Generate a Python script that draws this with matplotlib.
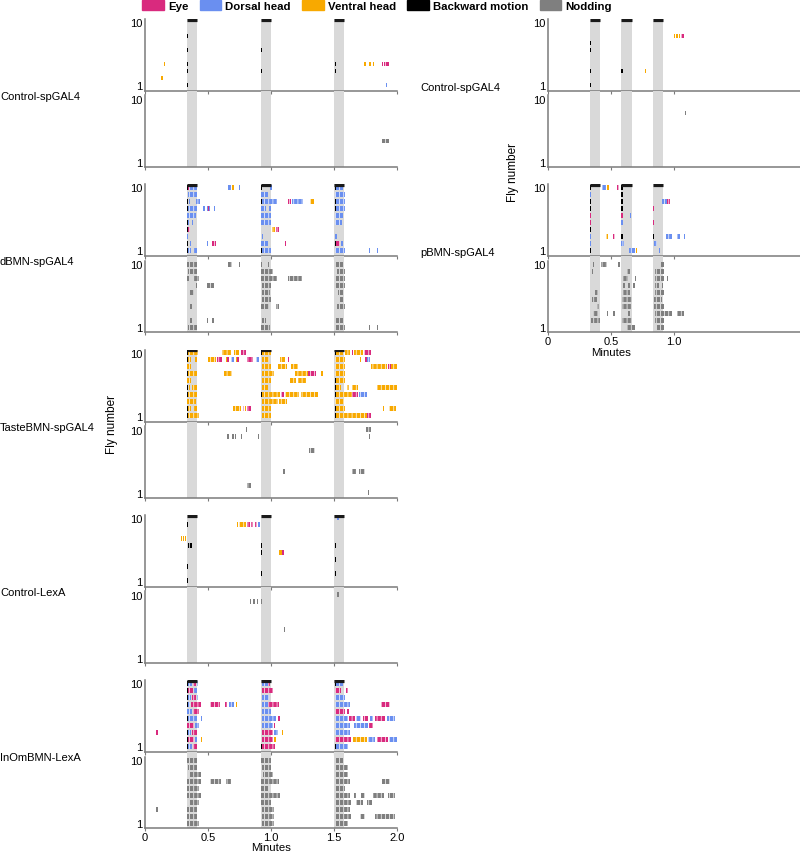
import matplotlib.pyplot as plt
from matplotlib.patches import Patch

plt.rcParams['font.family'] = ['Liberation Sans', 'DejaVu Sans']
plt.rcParams['hatch.linewidth'] = 0.5

W, H = 800, 854

colors = {'V': '#f8a900', 'D': '#6a8ff0', 'E': '#d92a7e', 'B': '#000000'}
nod_color = '#7f7f7f'
shade_color = '#d9d9d9'

# stimulus onsets in minutes, each lasts ~5 s
stim_left = [0.333, 0.917, 1.5]
stim_right = [0.333, 0.583, 0.833]
stim_len = 0.083

# grooming events: (fly, start, end, code) or (fly, time, code) for a single tick
# E = eye, D = dorsal head, V = ventral head, B = backward motion
ctrl_gal4_groom = [
    (8, 0.33, 'B'), (6, 0.33, 'B'), (4, 0.33, 'B'), (3, 0.33, 'B'), (1, 0.33, 'B'),
    (6, 0.92, 'B'), (3, 0.92, 'B'), (4, 1.505, 'B'), (3, 1.505, 'B'),
    (4, 0.15, 'V'), (2, 0.13, 'V'), (4, 1.74, 'V'), (4, 1.78, 'V'), (4, 1.81, 'V'),
    (4, 1.88, 'E'), (4, 1.9, 1.94, 'E'), (1, 1.91, 'D'),
]
ctrl_gal4_nod = [(4, 1.88, 1.94)]

dbmn_groom = [
    (10, 0.33, 'B'), (10, 0.335, 0.348, 'E'), (10, 0.35, 0.415, 'D'), (10, 0.662, 0.681, 'D'),
    (10, 0.694, 'V'), (10, 0.747, 'D'), (10, 0.92, 'B'), (10, 0.995, 'D'), (10, 1.505, 'B'),
    (10, 1.519, 1.572, 'D'),
    (9, 0.34, 0.415, 'D'), (9, 0.92, 0.973, 'D'), (9, 1.511, 1.59, 'D'),
    (8, 0.33, 'B'), (8, 0.348, 'D'), (8, 0.402, 0.434, 'D'), (8, 0.92, 'B'), (8, 0.928, 1.045, 'D'),
    (8, 1.138, 1.16, 'E'), (8, 1.165, 1.253, 'D'), (8, 1.306, 1.34, 'V'), (8, 1.505, 'B'),
    (8, 1.511, 1.585, 'D'),
    (7, 0.33, 'B'), (7, 0.34, 0.415, 'D'), (7, 0.46, 0.473, 'D'), (7, 0.489, 'D'), (7, 0.5, 'E'),
    (7, 0.508, 'D'), (7, 0.548, 'D'), (7, 0.92, 0.96, 'D'), (7, 0.987, 'D'), (7, 1.505, 'B'),
    (7, 1.513, 1.585, 'D'),
    (6, 0.335, 0.407, 'D'), (6, 0.92, 1.0, 'D'), (6, 1.511, 1.572, 'D'),
    (5, 0.33, 'B'), (5, 0.34, 'D'), (5, 0.37, 'D'), (5, 0.92, 1.0, 'D'), (5, 1.511, 1.564, 'D'),
    (4, 0.33, 'B'), (4, 0.34, 0.356, 'E'), (4, 1.008, 1.032, 'V'), (4, 1.043, 1.066, 'E'),
    (3, 0.335, 'D'), (3, 0.928, 'D'), (3, 1.511, 'D'),
    (2, 0.33, 'B'), (2, 0.356, 'D'), (2, 0.489, 'D'), (2, 0.529, 0.566, 'E'), (2, 0.92, 0.973, 'D'),
    (2, 1.112, 'E'), (2, 1.505, 'B'), (2, 1.519, 1.545, 'E'), (2, 1.559, 'D'),
    (1, 0.33, 'B'), (1, 0.34, 0.362, 'D'), (1, 0.388, 0.415, 'D'), (1, 0.92, 'B'), (1, 0.928, 1.0, 'D'),
    (1, 1.511, 1.585, 'D'), (1, 1.779, 'D'), (1, 1.838, 'D'),
]
dbmn_nod = [
    (10, 0.335, 0.415), (10, 0.662, 0.694), (10, 0.747), (10, 0.92), (10, 0.973), (10, 1.511, 1.572),
    (9, 0.34, 0.415), (9, 0.92, 1.013), (9, 1.527, 1.59),
    (8, 0.335, 0.356), (8, 0.388, 0.428), (8, 0.92, 1.045), (8, 1.138, 1.245), (8, 1.511, 1.585),
    (7, 0.402), (7, 0.489, 0.548), (7, 0.928, 1.0), (7, 1.511, 1.585),
    (6, 0.348, 0.388), (6, 0.928, 0.995), (6, 1.532, 1.572),
    (5, 0.928, 1.0), (5, 1.545, 1.572),
    (4, 0.356, 0.375), (4, 0.92, 0.987), (4, 1.043, 1.061), (4, 1.527, 1.585),
    (2, 0.356, 0.375), (2, 0.489), (2, 0.529, 0.548), (2, 0.928, 0.96), (2, 1.511, 1.572),
    (1, 0.34, 0.415), (1, 0.92, 0.995), (1, 1.511, 1.585), (1, 1.779), (1, 1.838),
]

taste_groom = [
    (10, 0.33, 'B'), (10, 0.335, 0.423, 'V'), (10, 0.614, 0.681, 'V'), (10, 0.707, 0.747, 'V'),
    (10, 0.761, 0.8, 'E'), (10, 0.92, 'B'), (10, 0.926, 1.0, 'V'), (10, 1.505, 'B'),
    (10, 1.511, 1.572, 'V'), (10, 1.59, 1.63, 'V'), (10, 1.64, 'E'), (10, 1.66, 1.73, 'V'),
    (10, 1.735, 1.79, 'E'),
    (9, 0.33, 'B'), (9, 0.335, 0.362, 'V'), (9, 0.394, 0.415, 'V'), (9, 0.5, 0.561, 'V'),
    (9, 0.569, 0.614, 'E'), (9, 0.641, 'V'), (9, 0.654, 'E'), (9, 0.681, 0.707, 'D'), (9, 0.721, 'V'),
    (9, 0.734, 'E'), (9, 0.809, 0.854, 'E'), (9, 0.88, 0.907, 'D'), (9, 0.926, 0.987, 'V'),
    (9, 1.074, 1.112, 'V'), (9, 1.133, 'E'), (9, 1.511, 1.585, 'V'), (9, 1.705, 'V'),
    (9, 1.745, 1.765, 'E'), (9, 1.765, 1.785, 'D'),
    (8, 0.335, 0.362, 'V'), (8, 0.926, 1.0, 'V'), (8, 1.059, 1.128, 'V'), (8, 1.16, 1.213, 'V'),
    (8, 1.511, 1.585, 'V'), (8, 1.79, 1.92, 'V'), (8, 1.93, 1.95, 'E'), (8, 1.955, 1.997, 'V'),
    (7, 0.33, 'B'), (7, 0.335, 0.415, 'V'), (7, 0.628, 0.694, 'V'), (7, 0.926, 1.027, 'V'),
    (7, 1.191, 1.29, 'V'), (7, 1.29, 1.355, 'E'), (7, 1.40, 'V'),
    (7, 1.511, 1.585, 'V'),
    (6, 0.335, 0.362, 'V'), (6, 0.926, 1.0, 'V'), (6, 1.154, 1.199, 'V'), (6, 1.213, 1.274, 'V'),
    (6, 1.505, 'B'), (6, 1.511, 1.585, 'V'),
    (5, 0.33, 'B'), (5, 0.348, 'V'), (5, 0.375, 0.415, 'V'), (5, 0.926, 0.973, 'V'), (5, 1.505, 'B'),
    (5, 1.511, 1.559, 'V'), (5, 1.60, 1.62, 'V'), (5, 1.64, 1.69, 'V'), (5, 1.84, 2.0, 'V'),
    (4, 0.33, 'B'), (4, 0.335, 0.415, 'V'), (4, 0.92, 'B'), (4, 0.926, 1.074, 'V'),
    (4, 1.08, 1.106, 'E'), (4, 1.112, 1.226, 'V'), (4, 1.24, 1.37, 'V'), (4, 1.505, 'B'),
    (4, 1.511, 1.64, 'V'), (4, 1.64, 1.69, 'E'), (4, 1.70, 1.76, 'D'),
    (3, 0.335, 0.407, 'V'), (3, 0.926, 1.053, 'V'), (3, 1.066, 1.128, 'V'), (3, 1.511, 1.58, 'V'),
    (2, 0.33, 'B'), (2, 0.335, 0.362, 'V'), (2, 0.388, 0.415, 'V'), (2, 0.702, 0.761, 'V'),
    (2, 0.774, 0.787, 'E'), (2, 0.795, 'V'), (2, 0.809, 0.84, 'E'), (2, 0.926, 1.0, 'V'),
    (2, 1.505, 'B'), (2, 1.511, 1.585, 'V'), (2, 1.89, 'V'), (2, 1.94, 1.99, 'V'),
    (1, 0.33, 'B'), (1, 0.335, 0.428, 'V'), (1, 0.926, 1.0, 'V'), (1, 1.505, 'B'),
    (1, 1.511, 1.76, 'V'), (1, 1.76, 1.79, 'E'),
]
taste_nod = [
    (10, 0.8), (10, 1.753, 1.793), (9, 0.654), (9, 0.694), (9, 0.715), (9, 0.761), (9, 0.894),
    (9, 1.777), (7, 1.298, 1.35), (4, 1.098), (4, 1.646, 1.678), (4, 1.7, 1.745),
    (2, 0.806, 0.84), (1, 1.771),
]

ctrl_lexa_groom = [
    (9, 0.335, 'B'), (3, 0.335, 'B'), (1, 0.335, 'B'), (6, 0.34, 0.375, 'B'),
    (7, 0.287, 'V'), (7, 0.3, 'V'), (7, 0.314, 'V'),
    (9, 0.729, 'V'), (9, 0.745, 0.8, 'V'), (9, 0.81, 0.83, 'E'), (9, 0.84, 0.86, 'E'),
    (9, 0.87, 0.89, 'E'), (9, 0.9, 0.915, 'D'),
    (6, 0.92, 'B'), (5, 0.92, 'B'), (2, 0.92, 'B'),
    (5, 1.066, 'V'), (5, 1.078, 'V'), (5, 1.09, 'E'),
    (10, 1.527, 'D'), (6, 1.505, 'B'), (4, 1.505, 'B'), (2, 1.505, 'B'),
]
ctrl_lexa_nod = [(9, 0.835, 0.845), (9, 0.86), (9, 0.885), (9, 0.92), (5, 1.1), (10, 1.527)]

inom_groom = [
    (10, 0.33, 'B'), (10, 0.34, 0.375, 'D'), (10, 0.38, 0.402, 'E'), (10, 0.41, 0.42, 'D'),
    (10, 0.926, 0.973, 'D'), (10, 0.979, 0.995, 'E'), (10, 1.505, 'B'), (10, 1.511, 1.572, 'D'),
    (9, 0.33, 'B'), (9, 0.335, 0.383, 'E'), (9, 0.388, 0.415, 'D'), (9, 0.926, 1.013, 'E'),
    (9, 1.511, 1.553, 'E'), (9, 1.598, 1.612, 'E'),
    (8, 0.33, 'B'), (8, 0.335, 0.362, 'D'), (8, 0.375, 0.402, 'E'), (8, 0.41, 0.423, 'D'),
    (8, 0.926, 0.987, 'D'), (8, 1.511, 1.585, 'D'),
    (7, 0.33, 'B'), (7, 0.335, 0.356, 'D'), (7, 0.362, 0.447, 'E'), (7, 0.513, 0.596, 'E'),
    (7, 0.636, 0.654, 'E'), (7, 0.668, 0.707, 'D'), (7, 0.723, 'V'), (7, 0.926, 0.973, 'D'),
    (7, 0.979, 1.066, 'E'), (7, 1.511, 1.625, 'D'), (7, 1.872, 1.944, 'E'),
    (6, 0.335, 0.375, 'D'), (6, 0.383, 0.428, 'E'), (6, 0.926, 1.0, 'D'), (6, 1.511, 1.585, 'E'),
    (6, 1.606, 'E'),
    (5, 0.33, 'B'), (5, 0.335, 0.415, 'D'), (5, 0.441, 'D'), (5, 0.926, 1.04, 'D'),
    (5, 1.053, 1.074, 'E'), (5, 1.511, 1.612, 'D'), (5, 1.617, 1.665, 'E'), (5, 1.678, 1.718, 'D'),
    (5, 1.731, 1.771, 'E'), (5, 1.785, 1.811, 'D'), (5, 1.824, 1.904, 'E'), (5, 1.918, 1.984, 'D'),
    (4, 0.335, 0.388, 'E'), (4, 0.394, 0.428, 'D'), (4, 0.926, 1.013, 'D'), (4, 1.021, 1.032, 'E'),
    (4, 1.511, 1.625, 'D'), (4, 1.66, 1.771, 'D'), (4, 1.777, 1.811, 'E'),
    (3, 0.09, 'E'), (3, 0.33, 'B'), (3, 0.335, 0.362, 'D'), (3, 0.375, 0.415, 'E'),
    (3, 0.926, 1.013, 'E'), (3, 1.021, 1.053, 'D'), (3, 1.085, 'V'), (3, 1.511, 1.625, 'D'),
    (2, 0.33, 'B'), (2, 0.335, 0.388, 'E'), (2, 0.394, 0.415, 'D'), (2, 0.441, 'V'),
    (2, 0.926, 1.013, 'E'), (2, 1.027, 1.04, 'V'), (2, 1.511, 1.638, 'E'), (2, 1.652, 1.758, 'V'),
    (2, 1.771, 1.824, 'D'), (2, 1.838, 1.931, 'E'), (2, 1.936, 1.997, 'D'),
    (1, 0.33, 'B'), (1, 0.335, 0.375, 'D'), (1, 0.383, 0.415, 'E'), (1, 0.92, 'B'),
    (1, 0.926, 1.032, 'E'), (1, 1.505, 'B'), (1, 1.511, 1.612, 'D'),
]
inom_nod = [
    (10, 0.335, 0.415), (10, 0.92, 1.0), (10, 1.511, 1.572),
    (9, 0.34, 0.415), (9, 0.928, 1.0), (9, 1.511, 1.612),
    (8, 0.348, 0.441), (8, 0.933, 1.013), (8, 1.511, 1.612),
    (7, 0.335, 0.447), (7, 0.513, 0.601), (7, 0.641, 0.681), (7, 0.92, 1.066), (7, 1.511, 1.625),
    (7, 1.878, 1.944),
    (6, 0.335, 0.428), (6, 0.92, 0.973), (6, 1.511, 1.585),
    (5, 0.335, 0.447), (5, 0.92, 1.074), (5, 1.511, 1.625), (5, 1.66, 1.678), (5, 1.718, 1.745),
    (5, 1.811, 1.896), (5, 1.931, 1.984),
    (4, 0.348, 0.428), (4, 0.92, 1.0), (4, 1.519, 1.638), (4, 1.678, 1.731), (4, 1.758, 1.798),
    (3, 0.09), (3, 0.335, 0.415), (3, 0.928, 1.027), (3, 1.511, 1.625),
    (2, 0.335, 0.415), (2, 0.926, 1.027), (2, 1.511, 1.638), (2, 1.705, 1.745), (2, 1.824, 1.984),
    (1, 0.335, 0.428), (1, 0.926, 1.027), (1, 1.511, 1.612),
]

# right column (stimuli every 15 s)
ctrl_gal4_r_groom = [
    (7, 0.332, 'B'), (6, 0.332, 'B'), (3, 0.332, 'B'), (1, 0.332, 'B'), (3, 0.582, 'B'),
    (3, 0.766, 'V'), (8, 1.0, 'V'), (8, 1.018, 'V'), (8, 1.037, 'V'), (8, 1.056, 1.082, 'E'),
]
ctrl_gal4_r_nod = [(8, 1.085)]

pbmn_groom = [
    (10, 0.332, 'B'), (8, 0.332, 'B'), (7, 0.332, 'B'), (4, 0.332, 'B'), (1, 0.332, 'B'),
    (9, 0.332, 'D'), (6, 0.332, 'E'), (5, 0.332, 'E'), (3, 0.332, 'D'), (2, 0.332, 'D'),
    (10, 0.426, 0.46, 'D'), (10, 0.471, 'V'), (10, 0.545, 0.564, 'E'),
    (3, 0.46, 0.479, 'V'), (3, 0.519, 0.532, 'E'),
    (10, 0.582, 'B'), (9, 0.582, 'B'), (8, 0.582, 'B'), (7, 0.582, 'B'), (3, 0.582, 'B'),
    (6, 0.582, 'E'), (5, 0.582, 'D'), (2, 0.582, 0.604, 'D'),
    (6, 0.652, 'D'), (1, 0.646, 0.691, 'D'), (1, 0.699, 'V'),
    (8, 0.904, 0.945, 'D'), (8, 0.945, 0.965, 'E'), (7, 0.832, 'E'), (5, 0.832, 'E'),
    (3, 0.832, 'B'), (3, 0.939, 0.984, 'D'), (3, 1.024, 1.045, 'D'), (3, 1.077, 'D'),
    (2, 0.843, 0.864, 'D'), (1, 0.878, 'D'),
]
pbmn_nod = [
    (10, 0.359), (10, 0.418, 0.465), (10, 0.559), (10, 0.891, 0.918),
    (9, 0.351), (9, 0.625, 0.652), (9, 0.851, 0.918),
    (8, 0.598, 0.638), (8, 0.691), (8, 0.851, 0.918), (8, 0.944),
    (7, 0.598), (7, 0.638), (7, 0.678), (7, 0.851, 0.878), (7, 0.904),
    (6, 0.372, 0.399), (6, 0.598, 0.652), (6, 0.851, 0.918),
    (5, 0.351, 0.391), (5, 0.585, 0.665), (5, 0.838, 0.904),
    (4, 0.386, 0.407), (4, 0.585, 0.657), (4, 0.838, 0.918),
    (3, 0.359, 0.399), (3, 0.465), (3, 0.519), (3, 0.638), (3, 0.851, 0.984), (3, 1.024, 1.077),
    (2, 0.338, 0.412), (2, 0.585, 0.665), (2, 0.851, 0.918),
    (1, 0.625, 0.691), (1, 0.864, 0.918),
]

left_names = ['Control-spGAL4', 'dBMN-spGAL4', 'TasteBMN-spGAL4', 'Control-LexA', 'InOmBMN-LexA']
left_data = [(ctrl_gal4_groom, ctrl_gal4_nod), (dbmn_groom, dbmn_nod), (taste_groom, taste_nod),
             (ctrl_lexa_groom, ctrl_lexa_nod), (inom_groom, inom_nod)]
right_names = ['Control-spGAL4', 'pBMN-spGAL4']
right_data = [(ctrl_gal4_r_groom, ctrl_gal4_r_nod), (pbmn_groom, pbmn_nod)]

TICK = 0.01


def box(x0, y0, x1, y1):
    return [x0 / W, 1 - y1 / H, (x1 - x0) / W, (y1 - y0) / H]


def span(ev):
    if len(ev) >= 3 and not isinstance(ev[2], str):
        return ev[1], max(ev[2] - ev[1], TICK)
    return ev[1], TICK


def style(ax, ylim, bottom_labels, xticks, xlabels):
    ax.set_xlim(0, 2)
    ax.set_ylim(*ylim)
    for s in ['top', 'right']:
        ax.spines[s].set_visible(False)
    for s in ['left', 'bottom']:
        ax.spines[s].set_color('#7a7a7a')
        ax.spines[s].set_linewidth(1.1)
    ax.spines['left'].set_bounds(ylim[0], min(ylim[1], 10.5))
    ax.set_yticks([1, 10])
    ax.set_yticklabels(['1', '10'])
    ax.tick_params(axis='y', length=0, pad=2, labelsize=8)
    ax.set_xticks(xticks)
    ax.tick_params(axis='x', length=2, color='#7a7a7a', labelsize=8, pad=1)
    if bottom_labels:
        ax.set_xticklabels(xlabels)
    else:
        ax.set_xticklabels([])
    ax.patch.set_alpha(0)


def draw_bars(ax, events, color):
    sp = [span(ev) for ev in events]
    long_ = [i for i, (_, w) in enumerate(sp) if w > TICK]
    short = [i for i, (_, w) in enumerate(sp) if w <= TICK]
    if short:
        ax.barh([events[i][0] for i in short], [sp[i][1] for i in short],
                left=[sp[i][0] for i in short], height=0.7, color=color, lw=0, zorder=2)
    if long_:
        # striped look: runs are made of many single-frame ticks
        ax.barh([events[i][0] for i in long_], [sp[i][1] for i in long_],
                left=[sp[i][0] for i in long_], height=0.7, facecolor=color,
                edgecolor='white', hatch='||||', lw=0, zorder=2)


def draw_pair(x0, x1, top, groom, nod, stims, last, xticks, xlabels):
    ag = fig.add_axes(box(x0, top, x1, top + 72))
    an = fig.add_axes(box(x0, top + 72, x1, top + 148))
    for ax in (ag, an):
        for s in stims:
            ax.axvspan(s, s + stim_len, color=shade_color, lw=0, zorder=0)
    for s in stims:
        ag.hlines(10.32, s, s + stim_len, color='#1a1a1a', lw=2.3, zorder=3)
    for code in ['V', 'D', 'E', 'B']:
        sel = [ev for ev in groom if ev[-1] == code]
        if sel:
            draw_bars(ag, sel, colors[code])
    if nod:
        draw_bars(an, nod, nod_color)
    style(ag, (0.14, 10.43), False, xticks, xlabels)
    style(an, (0.29, 11.14), last, xticks, xlabels)
    return ag, an


fig = plt.figure(figsize=(W / 100, H / 100), dpi=100)

lx0, lx1 = 145, 397
rx0, rx1 = 548, 800
for i, (name, (g, n)) in enumerate(zip(left_names, left_data)):
    top = 20 + 165.3 * i
    last = i == len(left_names) - 1
    ag, an = draw_pair(lx0, lx1, top, g, n, stim_left, last,
                       [0, 0.5, 1.0, 1.5, 2.0], ['0', '0.5', '1.0', '1.5', '2.0'])
    fig.text(0, 1 - (top + 77) / H, name, fontsize=8, ha='left', va='center')
    if last:
        an.set_xlabel('Minutes', fontsize=8.2)
        an.xaxis.set_label_coords(0.5, -0.185)

for i, (name, (g, n)) in enumerate(zip(right_names, right_data)):
    top = 20 + 165.3 * i
    last = i == len(right_names) - 1
    ag, an = draw_pair(rx0, rx1, top, g, n, stim_right, last,
                       [0, 0.5, 1.0], ['0', '0.5', '1.0'])
    fig.text(420 / W, 1 - (top + 68) / H, name, fontsize=8, ha='left', va='center')
    if last:
        an.set_xlabel('Minutes', fontsize=8.2)
        an.xaxis.set_label_coords(0.25, -0.2)

fig.text(112 / W, 1 - 425 / H, 'Fly number', rotation=90, fontsize=8.5, ha='center', va='center',
         family=['Liberation Sans Narrow', 'Liberation Sans'])
fig.text(513 / W, 1 - 173 / H, 'Fly number', rotation=90, fontsize=8.5, ha='center', va='center',
         family=['Liberation Sans Narrow', 'Liberation Sans'])

handles = [Patch(color=colors['E'], label='Eye'), Patch(color=colors['D'], label='Dorsal head'),
           Patch(color=colors['V'], label='Ventral head'), Patch(color=colors['B'], label='Backward motion'),
           Patch(color=nod_color, label='Nodding')]
fig.legend(handles=handles, loc='upper center', bbox_to_anchor=(377 / W, 1.0), ncol=5, frameon=False,
           prop={'weight': 'bold', 'size': 8.2}, handlelength=1.9, handleheight=0.95,
           handletextpad=0.35, columnspacing=1.0, borderpad=0.1, borderaxespad=0)

fig.savefig('out.png', dpi=100)
